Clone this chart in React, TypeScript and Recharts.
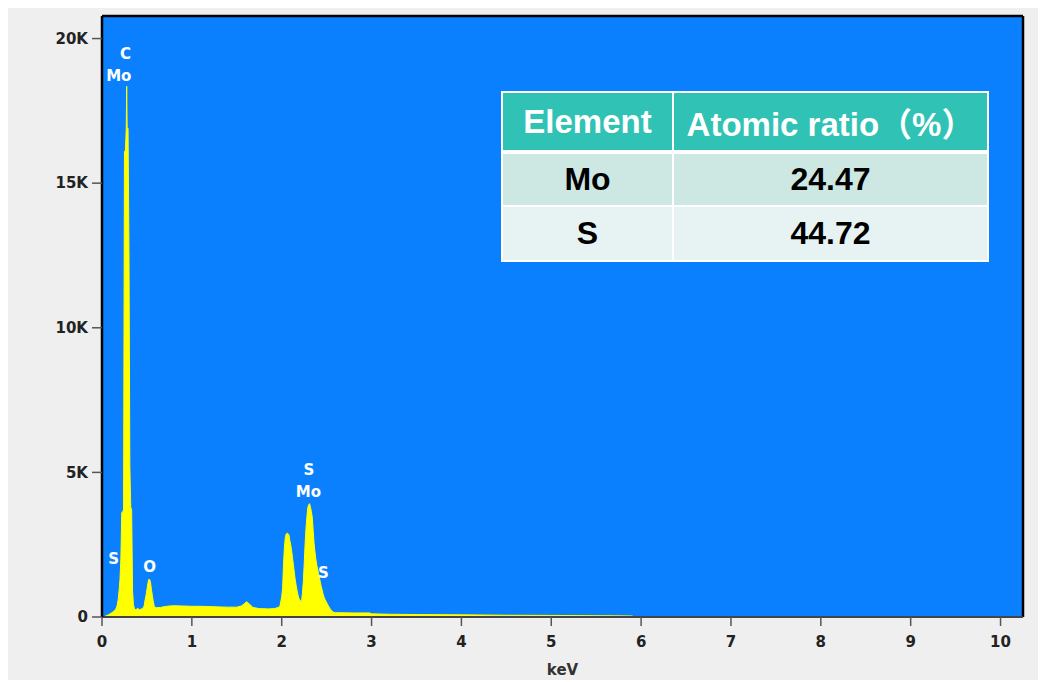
import React from "react";
import {
  Area,
  CartesianGrid,
  ComposedChart,
  ReferenceDot,
  ReferenceLine,
  XAxis,
  YAxis,
} from "recharts";

// spectrum as [keV, counts]
const lowEnergyPeaks: [number, number][] = [
  [0.0, 0], [0.03, 20], [0.06, 60], [0.09, 110], [0.11, 150], [0.13, 200],
  [0.15, 260], [0.16, 320], [0.17, 420], [0.18, 600], [0.19, 900], [0.2, 1300],
  [0.21, 2000], [0.22, 3600], [0.23, 3650], [0.24, 3700], [0.25, 16100],
  [0.26, 16100], [0.27, 16900], [0.275, 18350], [0.28, 16900], [0.29, 16900],
  [0.3, 12700], [0.31, 5200], [0.32, 3800], [0.33, 3700], [0.34, 900],
  [0.35, 420], [0.36, 300], [0.37, 260], [0.38, 250], [0.39, 290], [0.4, 300],
  [0.41, 260], [0.42, 250], [0.43, 270], [0.44, 280], [0.45, 300], [0.46, 320],
  [0.47, 400], [0.48, 600], [0.49, 750], [0.5, 950], [0.51, 1150], [0.52, 1300],
  [0.53, 1300], [0.54, 1200], [0.55, 950], [0.56, 750], [0.57, 550],
  [0.58, 380], [0.6, 320],
];

const background: [number, number][] = [
  [0.65, 330], [0.7, 360], [0.75, 380], [0.8, 390], [0.9, 380], [1.0, 370],
  [1.1, 370], [1.2, 360], [1.3, 350], [1.4, 340], [1.5, 340], [1.55, 380],
  [1.58, 450], [1.61, 530], [1.64, 450], [1.68, 330], [1.75, 290],
  [1.85, 280], [1.92, 290], [1.96, 330],
];

const sulfurPeaks: [number, number][] = [
  [1.98, 370], [2.0, 700], [2.01, 1000], [2.02, 1800], [2.03, 2400],
  [2.04, 2750], [2.05, 2870], [2.06, 2900], [2.07, 2880], [2.08, 2850],
  [2.09, 2650], [2.1, 2500], [2.11, 2300], [2.12, 2050], [2.13, 1800],
  [2.14, 1550], [2.15, 1300], [2.16, 1100], [2.17, 930], [2.18, 780],
  [2.19, 660], [2.2, 590], [2.21, 550], [2.22, 530], [2.23, 800], [2.24, 1200],
  [2.25, 1800], [2.26, 2500], [2.27, 3050], [2.28, 3450], [2.29, 3780],
  [2.3, 3880], [2.31, 3920], [2.32, 3800], [2.33, 3650], [2.34, 3450],
  [2.35, 3000], [2.36, 2550], [2.37, 2250], [2.38, 2000], [2.39, 1800],
  [2.4, 1650], [2.41, 1500], [2.42, 1350], [2.43, 1200], [2.44, 1050],
  [2.45, 930], [2.46, 800], [2.47, 700], [2.48, 620], [2.5, 500], [2.52, 380],
  [2.54, 280], [2.56, 200], [2.58, 160], [2.6, 150],
];

const tail: [number, number][] = [
  [2.8, 140], [2.98, 140], [3.0, 110], [3.2, 95], [3.5, 85], [4.0, 75],
  [4.2, 70], [4.5, 60], [5.0, 55], [5.5, 45], [5.7, 40], [5.9, 35],
  [5.92, 0], [10.25, 0],
];

const xTicks = [0, 1, 2, 3, 4, 5, 6, 7, 8, 9, 10];
const yTicks = [0, 5000, 10000, 15000, 20000];

// peak labels: [keV, counts, text]
const peakLabels: [number, number, string][] = [
  [0.261, 19480, "C"],
  [0.187, 18720, "Mo"],
  [0.131, 2010, "S"],
  [0.53, 1724, "O"],
  [2.302, 5100, "S"],
  [2.298, 4320, "Mo"],
  [2.465, 1534, "S"],
];

const tableHeader = ["Element", "Atomic ratio（%）"];
const elements = ["Mo", "S"];
const atomicRatios = ["24.47", "44.72"];
const rowColors = ["#cde8e3", "#e6f3f2"];

const X_MAX = 10.25;
const Y_MAX = 20780;

const spectrum = [...lowEnergyPeaks, ...background, ...sulfurPeaks, ...tail].map(
  ([kev, counts]) => ({ kev, counts })
);

const tickStyle = { fill: "#222", fontSize: 15, fontWeight: "bold" as const };

const AtomicTable = () => {
  const cell: React.CSSProperties = {
    display: "flex",
    alignItems: "center",
    justifyContent: "center",
    fontWeight: "bold",
    boxSizing: "border-box",
  };
  return (
    <div
      style={{
        position: "absolute",
        left: 493,
        top: 85,
        width: 488,
        height: 171,
        background: "#fff",
        padding: 2,
        boxSizing: "border-box",
        display: "grid",
        gridTemplateColumns: "169px 313px",
        gridTemplateRows: "59px 51px 53px",
        columnGap: 2,
        rowGap: 2,
        fontFamily: "'Liberation Sans', 'Noto Sans CJK SC', sans-serif",
      }}
    >
      {tableHeader.map((h) => (
        <div
          key={h}
          style={{
            ...cell,
            background: "#30c2b4",
            color: "#fff",
            fontSize: 33,
            borderBottom: "2px solid #fff",
          }}
        >
          {h}
        </div>
      ))}
      {elements.map((el, i) => (
        <React.Fragment key={el}>
          <div style={{ ...cell, background: rowColors[i], color: "#000", fontSize: 32 }}>
            {el}
          </div>
          <div style={{ ...cell, background: rowColors[i], color: "#000", fontSize: 32 }}>
            {atomicRatios[i]}
          </div>
        </React.Fragment>
      ))}
    </div>
  );
};

export default function App() {
  return (
    <div
      style={{
        position: "relative",
        width: 1032,
        height: 674,
        marginTop: -2,
        background: "#efefef",
        fontFamily: "'DejaVu Sans', sans-serif",
      }}
    >
      <ComposedChart
        width={1032}
        height={674}
        data={spectrum}
        margin={{ top: 10, right: 17, bottom: 0, left: 0 }}
      >
        <CartesianGrid
          horizontal={false}
          vertical={false}
          fill="#0a80fe"
          fillOpacity={1}
          stroke="none"
        />
        <XAxis
          type="number"
          dataKey="kev"
          domain={[0, X_MAX]}
          ticks={xTicks}
          allowDataOverflow
          height={63}
          tickSize={9}
          tickMargin={10}
          tick={tickStyle}
          axisLine={{ stroke: "#444", strokeWidth: 2 }}
          tickLine={{ stroke: "#555", strokeWidth: 1.5 }}
          label={{
            value: "keV",
            position: "insideBottom",
            offset: 5,
            fill: "#333",
            fontSize: 15,
            fontWeight: "bold",
          }}
        />
        <YAxis
          type="number"
          domain={[0, Y_MAX]}
          ticks={yTicks}
          allowDataOverflow
          width={94}
          tickSize={10}
          tickMargin={4}
          tick={tickStyle}
          tickFormatter={(v: number) => (v === 0 ? "0" : `${v / 1000}K`)}
          axisLine={{ stroke: "#000", strokeWidth: 2.5 }}
          tickLine={{ stroke: "#555", strokeWidth: 1.5 }}
        />
        <Area
          type="linear"
          dataKey="counts"
          stroke="#ffff00"
          strokeWidth={1}
          fill="#ffff00"
          fillOpacity={1}
          isAnimationActive={false}
          dot={false}
          activeDot={false}
        />
        <ReferenceLine y={Y_MAX} stroke="#000" strokeWidth={2.5} />
        <ReferenceLine x={X_MAX} stroke="#000" strokeWidth={2.5} />
        {peakLabels.map(([kev, counts, text], i) => (
          <ReferenceDot
            key={i}
            x={kev}
            y={counts}
            r={0}
            fill="none"
            stroke="none"
            label={{
              value: text,
              position: "center",
              fill: "#fff",
              fontSize: 15,
              fontWeight: "bold",
            }}
          />
        ))}
      </ComposedChart>
      <AtomicTable />
    </div>
  );
}
